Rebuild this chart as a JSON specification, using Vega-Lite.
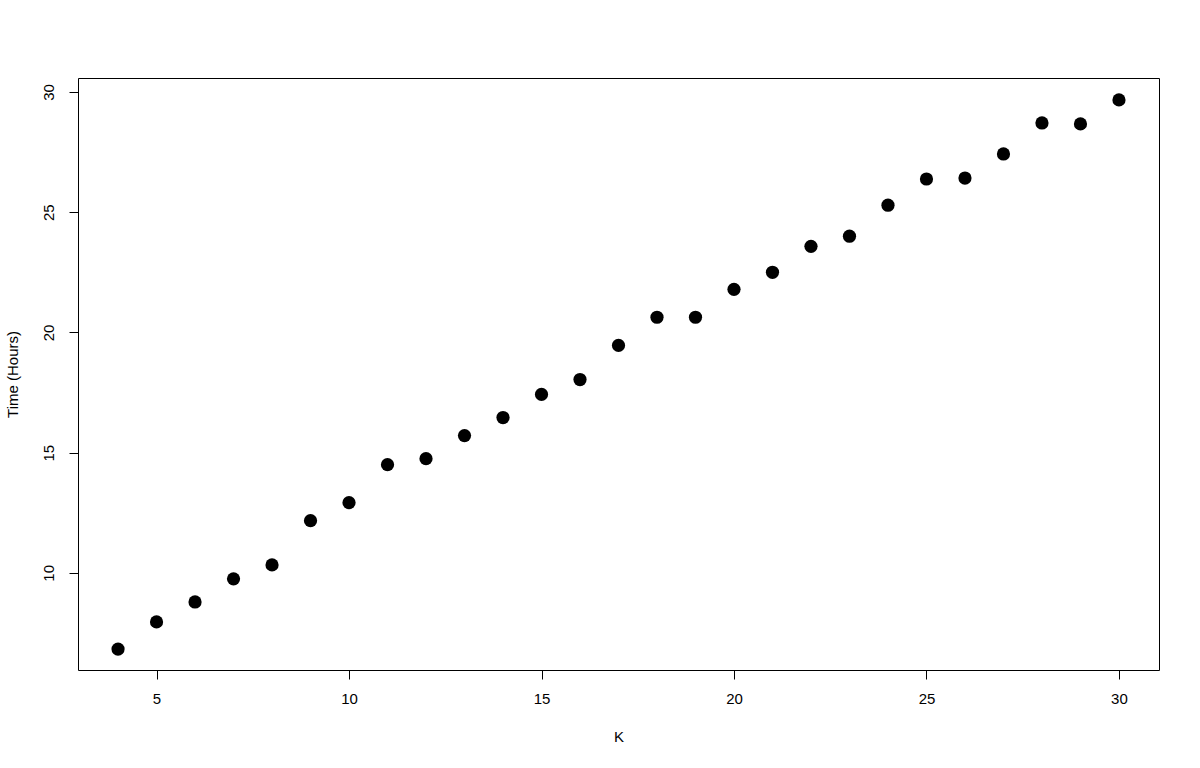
{
  "$schema": "https://vega.github.io/schema/vega-lite/v6.json",
  "width": 1081,
  "height": 592,
  "autosize": {"type": "none"},
  "padding": {"left": 78, "top": 78, "right": 41, "bottom": 98},
  "background": "white",
  "config": {
    "view": {"stroke": "black", "strokeWidth": 1},
    "font": "Liberation Sans",
    "axis": {"grid": false, "domain": false, "tickColor": "black", "tickSize": 9, "labelFont": "Liberation Sans", "labelFontSize": 15, "labelColor": "black", "titleFont": "Liberation Sans", "titleFontSize": 15, "titleFontWeight": "normal", "titleColor": "black"}
  },
  "data": {"values": [
    {"K": 4, "Time": 6.83},
    {"K": 5, "Time": 7.96},
    {"K": 6, "Time": 8.79},
    {"K": 7, "Time": 9.75},
    {"K": 8, "Time": 10.33},
    {"K": 9, "Time": 12.17},
    {"K": 10, "Time": 12.92},
    {"K": 11, "Time": 14.5},
    {"K": 12, "Time": 14.75},
    {"K": 13, "Time": 15.71},
    {"K": 14, "Time": 16.46},
    {"K": 15, "Time": 17.42},
    {"K": 16, "Time": 18.04},
    {"K": 17, "Time": 19.46},
    {"K": 18, "Time": 20.63},
    {"K": 19, "Time": 20.63},
    {"K": 20, "Time": 21.79},
    {"K": 21, "Time": 22.5},
    {"K": 22, "Time": 23.58},
    {"K": 23, "Time": 24.0},
    {"K": 24, "Time": 25.29},
    {"K": 25, "Time": 26.38},
    {"K": 26, "Time": 26.42},
    {"K": 27, "Time": 27.42},
    {"K": 28, "Time": 28.71},
    {"K": 29, "Time": 28.67},
    {"K": 30, "Time": 29.67}
  ]},
  "mark": {"type": "point", "filled": true, "shape": "circle", "color": "black", "opacity": 1, "size": 175},
  "encoding": {
    "x": {"field": "K", "type": "quantitative", "title": "K",
      "scale": {"domain": [2.96, 31.04], "nice": false, "zero": false},
      "axis": {"values": [5, 10, 15, 20, 25, 30], "labelPadding": 12, "titlePadding": 23}},
    "y": {"field": "Time", "type": "quantitative", "title": "Time (Hours)",
      "scale": {"domain": [5.96, 30.58], "nice": false, "zero": false},
      "axis": {"values": [10, 15, 20, 25, 30], "labelAngle": -90, "labelAlign": "center", "labelBaseline": "bottom", "labelPadding": 13, "titlePadding": 21}}
  }
}
